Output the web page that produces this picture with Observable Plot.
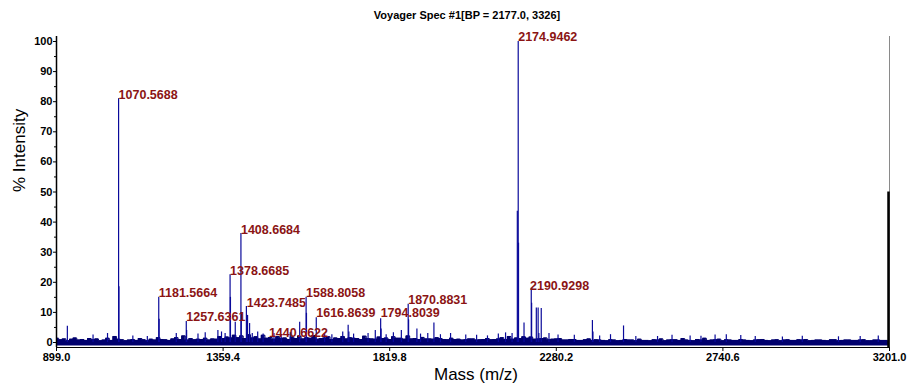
<!DOCTYPE html>
<html>
<head>
<meta charset="utf-8">
<script src="https://cdn.jsdelivr.net/npm/d3@7"></script>
<script src="https://cdn.jsdelivr.net/npm/@observablehq/plot@0.6"></script>
<style>
  html, body { margin: 0; padding: 0; background: #fff; }
  #chart svg { display: block; font-family: Arial, "Liberation Sans", sans-serif; }
</style>
</head>
<body>
<div id="chart"></div>
<script>
// ---- data ----
const title = "Voyager Spec #1[BP = 2177.0, 3326]";
const xTicks = [899.0, 1359.4, 1819.8, 2280.2, 2740.6, 3201.0];
const yTicks = [0, 10, 20, 30, 40, 50, 60, 70, 80, 90, 100];
const yMinor = [5, 15, 25, 35, 45, 55, 65, 75, 85, 95];

// baseline noise band top, one value every 10 m/z from 900 to 3200
const noiseStart = 900, noiseStep = 10, noiseFloor = -1.2;
const noise = [
  1.4,0.9,1.2,0.6,1.1,1.5,0.8,1.0,0.7,1.3,
  0.9,1.2,0.6,0.8,1.4,0.7,2.0,1.1,0.9,0.6,
  0.8,1.0,0.7,1.3,0.9,0.6,1.1,0.8,1.6,1.0,
  0.9,0.7,1.2,1.6,1.0,2.2,0.8,1.3,0.9,1.1,
  1.0,1.4,0.8,1.2,1.1,2.0,1.3,1.8,1.5,2.4,
  1.6,2.2,1.3,2.6,1.5,1.9,1.2,2.4,1.4,1.7,
  1.1,2.0,1.4,1.5,1.0,1.8,1.3,2.1,1.2,1.6,
  1.4,2.3,1.1,1.3,1.5,1.9,1.0,1.5,1.3,2.0,
  1.2,1.6,1.4,1.3,1.0,2.1,1.3,1.2,1.1,1.8,
  1.3,1.5,1.0,1.9,1.4,1.4,1.1,2.2,1.2,1.3,
  1.0,1.7,1.2,1.2,1.1,1.6,1.3,1.0,0.9,1.4,
  1.0,1.1,0.8,0.9,1.2,1.2,0.8,0.9,1.0,1.3,
  0.9,1.0,1.2,1.6,1.0,2.0,1.1,1.5,1.3,1.9,
  1.4,1.8,1.1,1.2,1.3,1.5,0.9,1.1,1.2,1.3,
  0.8,0.8,1.0,1.0,0.7,0.7,0.9,1.2,0.7,0.9,
  0.8,0.7,0.6,0.9,0.8,0.6,0.7,1.0,0.8,0.8,
  0.6,1.1,0.7,0.7,0.6,0.9,0.8,1.2,0.6,0.8,
  0.9,0.9,0.7,1.3,0.8,0.7,0.6,1.0,0.8,1.4,
  0.7,0.8,0.9,1.1,0.6,0.9,0.8,0.7,0.7,1.0,
  0.8,0.7,0.6,0.8,0.9,1.0,0.7,0.6,0.8,0.9,
  0.6,0.8,0.9,0.7,0.7,0.9,0.8,1.0,0.6,0.7,
  0.8,0.8,0.7,0.6,0.9,0.9,0.6,0.7,0.8,0.8,
  0.7,0.7,0.8,0.9,0.6,0.6,0.8,0.8,0.7,0.7,
  0.5
];

// spectral peaks (m/z, % intensity)
const peakMz = [929, 1040, 1070.57, 1071.6, 1181.57, 1182.6, 1230, 1257.64, 1258.6,
  1378.67, 1379.7, 1393, 1408.67, 1409.7, 1423.75, 1427, 1432.6,
  1571, 1588.81, 1589.8, 1616.86, 1705, 1707, 1794.8, 1796, 1852,
  1870.88, 1872, 1895, 1942, 1988, 2158, 2172.5, 2174.95, 2175.8,
  2191, 2211, 2212, 2225, 2230, 2232, 2238.6, 2380, 2381.5, 2466,
  2719, 2790, 2560, 2650, 2905, 3060,
  1000, 1110, 1150, 1290, 1310, 1345, 1355, 1365, 1440, 1455, 1470, 1500,
  1520, 1545, 1640, 1660, 1690, 1720, 1760, 1780, 1810, 1830, 1905, 1925,
  1960, 2030, 2060, 2090, 2120, 2140, 2260, 2285, 2330, 2400, 2430, 2500,
  2600, 2680, 2750, 2830, 2960, 3120, 3170];
const peakH = [5.4, 3, 81, 18.5, 15, 7.7, 3, 7, 4,
  22.5, 15, 6.7, 36.2, 10, 12, 9, 6.3,
  6.7, 15, 9.7, 8.2, 5.7, 3.5, 7.9, 4.5, 4,
  12.7, 7.5, 4.5, 6.5, 3, 3, 43.6, 100, 33,
  6.5, 18, 13, 11.5, 11.5, 3, 11.3, 7.3, 3.5, 5.5,
  2.5, 2.3, 2, 2.2, 1.8, 1.9,
  2.5, 2.2, 2, 2.8, 3.2, 4, 3.5, 3, 3, 3.5, 2.8, 3,
  2.5, 3.2, 3, 2.6, 3.5, 2.8, 3, 4, 2.6, 3.2, 2.8, 3,
  2.6, 2.5, 2.4, 2.2, 2.8, 3.2, 3, 2.5, 2.4, 2.2, 2.6, 2,
  2.4, 2.1, 2.6, 2, 2.1, 2, 2.2];

// end-of-range trace (m/z 3201)
const edgeMz = [3201];
const edgeH = [50];

// peak annotations
const labelText = ["1070.5688", "1181.5664", "1257.6361", "1378.6685", "1408.6684",
  "1423.7485", "1440.6622", "1588.8058", "1616.8639", "1794.8039",
  "1870.8831", "2174.9462", "2190.9298"];
const labelMz = [1070.57, 1181.57, 1257.64, 1378.67, 1408.67,
  1425, 1486, 1588.81, 1616.86, 1794.8,
  1870.88, 2174.95, 2207.5];
const labelH = [81, 15, 7, 22.5, 36.2, 11.8, 1.7, 15, 8.5, 8.6, 12.7, 100, 17.3];

// ---- build tables ----
const noiseData = noise.map((v, i) => ({mz: noiseStart + i * noiseStep, h: v}));
const peaks = peakMz.map((m, i) => ({mz: m, h: peakH[i]}));
const edge = edgeMz.map((m, i) => ({mz: m, h: edgeH[i]}));
const labels = labelText.map((t, i) => ({text: t, mz: labelMz[i], h: labelH[i]}));

const yMin = -1.66, yMax = 101.66;
const font = "Arial, 'Liberation Sans', sans-serif";

const chart = Plot.plot({
  width: 912,
  height: 387,
  marginLeft: 56,
  marginRight: 23,
  marginTop: 36,
  marginBottom: 40,
  style: {fontFamily: font, background: "#fff", color: "#000"},
  x: {domain: [899, 3201], axis: null},
  y: {domain: [yMin, yMax], axis: null},
  marks: [
    // noise band
    Plot.areaY(noiseData, {x: "mz", y1: noiseFloor, y2: "h", curve: "step", fill: "#00006e"}),
    Plot.lineY(noiseData, {x: "mz", y: "h", curve: "step", stroke: "#00006e", strokeWidth: 1}),
    // peaks
    Plot.ruleX(peaks, {x: "mz", y1: 0, y2: "h", stroke: "#0a0a9a", strokeWidth: 1.2}),
    // right edge
    Plot.ruleX([3201], {y1: yMin, y2: yMax, stroke: "#8a8a8a", strokeWidth: 1}),
    Plot.ruleX(edge, {x: "mz", y1: yMin, y2: "h", stroke: "#000", strokeWidth: 2.5, dx: -1}),
    // axes lines
    Plot.ruleX([899], {y1: yMin, y2: yMax, stroke: "#000", strokeWidth: 1.5}),
    Plot.ruleY([yMin], {stroke: "#000", strokeWidth: 1}),
    Plot.axisX({ticks: xTicks, tickFormat: d => d.toFixed(1), tickSize: 4, tickPadding: 2,
      fontWeight: "bold", fontSize: 11, label: null}),
    Plot.axisY({ticks: yTicks, tickFormat: d => String(d), tickSize: 3, tickPadding: 1,
      fontWeight: "bold", fontSize: 11, label: null}),
    Plot.axisY({ticks: yMinor, tickFormat: () => "", tickSize: 2, label: null}),
    // peak labels
    Plot.text(labels, {x: "mz", y: "h", text: "text", textAnchor: "start", lineAnchor: "bottom",
      dy: 0, fill: "#8b1414", fontWeight: "bold", fontSize: 12.5}),
    // titles
    Plot.text([title], {frameAnchor: "top", dy: -21, dx: -6, fontWeight: "bold", fontSize: 11,
      lineAnchor: "middle", fill: "#000"}),
    Plot.text(["Mass (m/z)"], {frameAnchor: "bottom", dy: 27, dx: 3, fontSize: 17,
      lineAnchor: "middle", fill: "#000"}),
    Plot.text(["% Intensity"], {frameAnchor: "left", dx: -37, rotate: -90, fontSize: 17,
      lineAnchor: "middle", fill: "#000"})
  ]
});
document.getElementById("chart").appendChild(chart);
</script>
</body>
</html>
